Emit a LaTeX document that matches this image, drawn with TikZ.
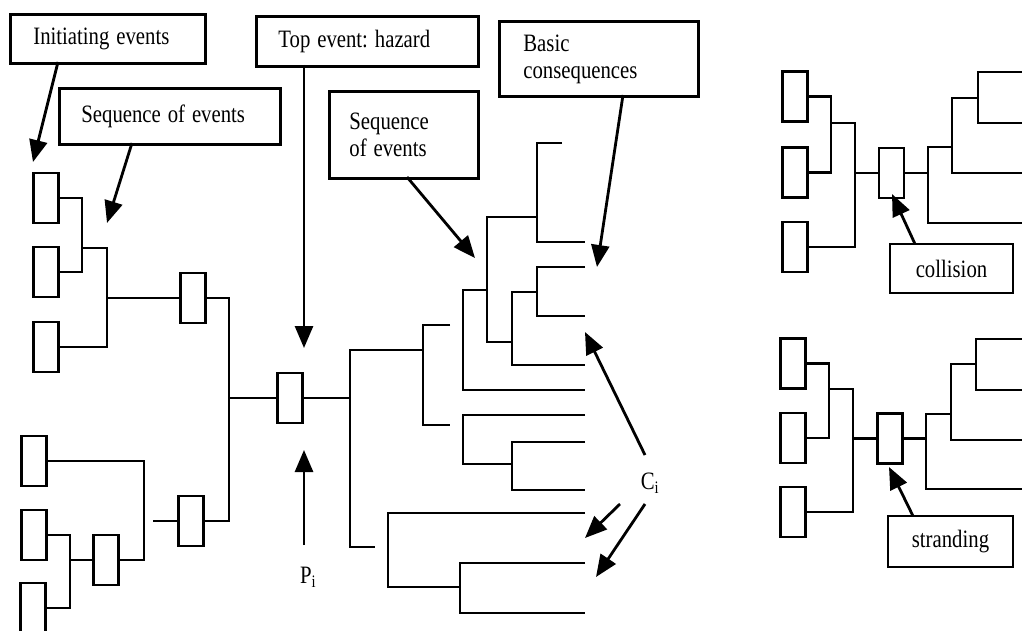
\documentclass[tikz,border=0pt]{standalone}
\usepackage{fontspec}
\usepackage{graphicx}
\setmainfont{Liberation Serif}
\frenchspacing
\newcommand{\nrw}[1]{\scalebox{0.83}[1]{#1}}
\usetikzlibrary{arrows.meta}
\tikzset{
  evbox/.style={draw, line width=2.8pt, minimum width=25pt, minimum height=50pt, inner sep=0pt, anchor=center},
  lbl/.style={draw, line width=2.8pt, inner ysep=0pt, align=left, font=\fontsize{25}{27}\selectfont, anchor=north west},
  tree/.style={line width=2.7pt, line join=miter},
  arr/.style={line width=2.8pt, -{Triangle[length=22pt,width=18pt]}},
  txt/.style={inner sep=0pt, font=\fontsize{25}{27}\selectfont}
}
\begin{document}
\begin{tikzpicture}[x=1pt,y=-1pt]
\fill[white] (0,0) rectangle (1022,631);
\clip (0,0) rectangle (1022,631);
\useasboundingbox (0,0) rectangle (1022,631);

% ---------- left fault tree ----------
\node[evbox] (b1) at (46,198) {};
\node[evbox] (b2) at (46,272) {};
\node[evbox] (b3) at (46,347) {};
\node[evbox] (b4) at (193,298) {};
\node[evbox] (top) at (290,398) {};
\node[evbox] (b5) at (191,521) {};
\node[evbox] (b6) at (34,461) {};
\node[evbox] (b7) at (34,535) {};
\node[evbox] (b8) at (106,560) {};
\node[evbox] (b9) at (33,608) {};
\coordinate (stub) at (153,521);

\draw[tree] (b1.east) -- (82,198) |- (b2.east);
\draw[tree] (82,248) -- (107,248) |- (b3.east);
\draw[tree] (107,298) -- (b4.west);
\draw[tree] (b4.east) -- (229,298) |- (b5.east);
\draw[tree] (229,398) -- (top.west);
\draw[tree] (stub) -- (b5.west);
\draw[tree] (b6.east) -- (144,461) |- (b8.east);
\draw[tree] (b7.east) -- (70,535) |- (b9.east);
\draw[tree] (70,560) -- (b8.west);

% ---------- main event tree ----------
\draw[tree] (top.east) -- (350,398);
\draw[tree] (423,350) -| (350,547) -- (375,547);
\draw[tree] (450,325) -| (423,425) -- (450,425);
\draw[tree] (487,290) -| (463,390) -- (585,390);
\draw[tree] (537,217) -| (487,342) -- (512,342);
\draw[tree] (562,143) -| (537,242) -- (585,242);
\draw[tree] (537,292) -| (512,365) -- (585,365);
\draw[tree] (585,267) -| (537,316) -- (585,316);
\draw[tree] (585,415) -| (463,464) -- (512,464);
\draw[tree] (585,442) -| (512,490) -- (585,490);
\draw[tree] (585,513) -| (388,587) -- (460,587);
\draw[tree] (585,563) -| (460,613) -- (585,613);

% ---------- labels ----------
\node[lbl, inner xsep=23pt, text width=149pt, minimum height=49pt] (init) at (9,13) {\nrw{Initiating events}};
\node[lbl, inner xsep=22pt, text width=177pt, minimum height=56pt] (seqA) at (58,87) {\nrw{Sequence of events}};
\node[lbl, inner xsep=22pt, text width=178pt, minimum height=50pt] (topev) at (255,15) {\nrw{Top event: hazard}};
\node[lbl, inner xsep=20pt, text width=109pt, minimum height=87pt] (seqB) at (328,90) {\nrw{Sequence}\\\nrw{of events}};
\node[lbl, inner xsep=24pt, text width=151pt, minimum height=75pt] (basic) at (498,20) {\nrw{Basic}\\\nrw{consequences}};
\node[txt] (pi) at (308,577) {\nrw{P\textsubscript{i}}};
\node[txt] (ci) at (650,483) {\nrw{C\textsubscript{i}}};

% ---------- arrows ----------
\coordinate (a1s) at (58,62);   \coordinate (a1e) at (33,162);
\coordinate (a2s) at (132,143); \coordinate (a2e) at (107,223);
\coordinate (a3s) at (304,65);  \coordinate (a3e) at (304,348);
\coordinate (a4s) at (304,545); \coordinate (a4e) at (304,450);
\coordinate (a5s) at (407,177); \coordinate (a5e) at (475,258);
\coordinate (a6s) at (623,95);  \coordinate (a6e) at (597,267);
\coordinate (a7s) at (645,455); \coordinate (a7e) at (585,332);
\coordinate (a8s) at (620,504); \coordinate (a8e) at (585,538);
\coordinate (a9s) at (645,504); \coordinate (a9e) at (596,577);
\draw[arr] (a1s) -- (a1e);
\draw[arr] (a2s) -- (a2e);
\draw[arr] (a3s) -- (a3e);
\draw[arr] (a4s) -- (a4e);
\draw[arr] (a5s) -- (a5e);
\draw[arr] (a6s) -- (a6e);
\draw[arr] (a7s) -- (a7e);
\draw[arr] (a8s) -- (a8e);
\draw[arr] (a9s) -- (a9e);

% ---------- collision bow-tie ----------
\node[evbox] (c1) at (795,96.5) {};
\node[evbox] (c2) at (795,172.5) {};
\node[evbox] (c3) at (795,247) {};
\node[evbox] (cA) at (891.5,173) {};
\draw[tree] (c1.east) -- (831,96.5) |- (c2.east);
\draw[tree] (831,123) -- (855,123) |- (c3.east);
\draw[tree] (855,173) -- (cA.west);
\draw[tree] (cA.east) -- (928,173);
\draw[tree] (952,147) -| (928,223) -- (1030,223);
\draw[tree] (978,98) -| (952,173) -- (1030,173);
\draw[tree] (1030,72) -| (978,123) -- (1030,123);
\node[draw, line width=2.8pt, minimum width=123pt, minimum height=49pt, inner sep=0pt, font=\fontsize{25}{27}\selectfont] (coll) at (951.5,268.5) {\nrw{collision}};
\coordinate (c4s) at (915,244); \coordinate (c4e) at (892,194);
\draw[arr] (c4s) -- (c4e);

% ---------- stranding bow-tie ----------
\node[evbox] (d1) at (793,363.5) {};
\node[evbox] (d2) at (793,438) {};
\node[evbox] (d3) at (793,512) {};
\node[evbox] (dA) at (890,438.5) {};
\draw[tree] (d1.east) -- (829,363.5) |- (d2.east);
\draw[tree] (829,389) -- (853,389) |- (d3.east);
\draw[tree] (853,438.5) -- (dA.west);
\draw[tree] (dA.east) -- (926,438.5);
\draw[tree] (951,414) -| (926,489) -- (1030,489);
\draw[tree] (976,364) -| (951,440) -- (1030,440);
\draw[tree] (1030,339) -| (976,390) -- (1030,390);
\node[draw, line width=2.8pt, minimum width=125pt, minimum height=51pt, inner sep=0pt, font=\fontsize{25}{27}\selectfont] (strand) at (950.5,541.5) {\nrw{stranding}};
\coordinate (d4s) at (913,516); \coordinate (d4e) at (889,467);
\draw[arr] (d4s) -- (d4e);
\end{tikzpicture}
\end{document}
